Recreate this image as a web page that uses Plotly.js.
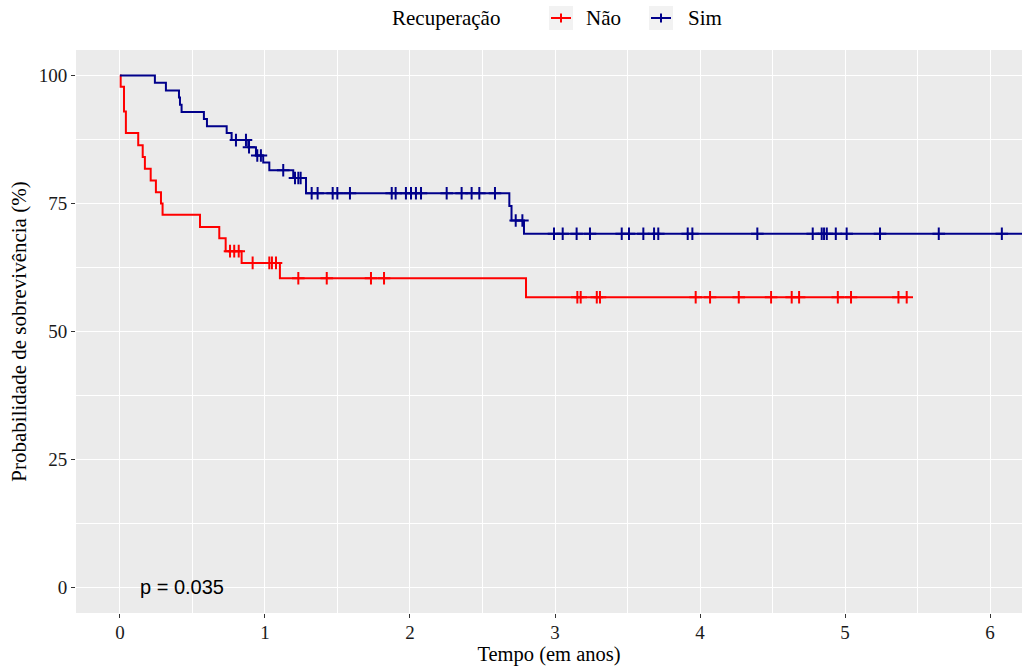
<!DOCTYPE html>
<html>
<head>
<meta charset="utf-8">
<script src="https://cdn.plot.ly/plotly-3.0.1.min.js"></script>
<style>html,body{margin:0;padding:0;background:#fff;}#chart{width:1022px;height:666px;}</style>
</head>
<body>
<div id="chart"></div>
<script>
// Group "Não": Kaplan-Meier step times (years) and survival (%) after each step
const naoTimes = [0, 0.005, 0.028, 0.041, 0.126, 0.157, 0.172, 0.212, 0.248, 0.283, 0.294, 0.552, 0.685, 0.729, 0.839, 1.103, 2.8, 5.43];
const naoSurv  = [100, 97.8, 93.0, 88.8, 86.4, 84.1, 81.8, 79.5, 77.2, 75.0, 72.8, 70.4, 68.2, 65.7, 63.4, 60.4, 56.7, 56.7];
const naoCensor = [0.759, 0.788, 0.819, 0.915, 1.03, 1.048, 1.076, 1.23, 1.426, 1.731, 1.821,
                   3.154, 3.177, 3.288, 3.31, 3.97, 4.069, 4.267, 4.49, 4.632, 4.683, 4.95, 5.041, 5.368, 5.425];

// Group "Sim"
const simTimes = [0, 0.241, 0.317, 0.407, 0.414, 0.425, 0.579, 0.6, 0.736, 0.77, 0.885, 0.938, 0.988, 1.03, 1.195, 1.283, 2.685, 2.7, 2.786, 6.3];
const simSurv  = [100, 98.6, 97.1, 95.7, 94.3, 92.9, 91.5, 90.1, 88.8, 87.4, 86.0, 84.4, 83.0, 81.5, 80.0, 77.0, 74.5, 71.7, 69.1, 69.1];
const simCensor = [0.8, 0.869, 0.89, 0.947, 0.972, 1.126, 1.207, 1.23, 1.246,
                   1.322, 1.363, 1.467, 1.499, 1.586, 1.874, 1.901, 1.972, 2.007, 2.041, 2.076, 2.253, 2.356, 2.425, 2.478, 2.586,
                   2.729, 2.775, 2.993, 3.053, 3.149, 3.241, 3.46, 3.51, 3.609, 3.683, 3.712, 3.915, 3.947, 4.395,
                   4.777, 4.839, 4.855, 4.874, 4.936, 5.011, 5.241, 5.646, 6.081];

const groupNames = ['Não', 'Sim'];
const groupColors = ['#FF0000', '#00008B'];
const legendTitle = 'Recuperação';
const xTicks = [0, 1, 2, 3, 4, 5, 6];
const yTicks = [0, 25, 50, 75, 100];
const pValueText = 'p = 0.035';

function survAt(times, surv, t) {
  let s = surv[0];
  for (let i = 0; i < times.length; i++) { if (times[i] <= t) s = surv[i]; }
  return s;
}

const groups = [
  {times: naoTimes, surv: naoSurv, cens: naoCensor},
  {times: simTimes, surv: simSurv, cens: simCensor}
];

const serif = '"Liberation Serif", "Times New Roman", serif';
const sans = '"Liberation Sans", Arial, sans-serif';
const traces = [];
groups.forEach((g, i) => {
  traces.push({
    x: g.times, y: g.surv, type: 'scatter', mode: 'lines',
    line: {shape: 'hv', color: groupColors[i], width: 2},
    name: groupNames[i], legendgroup: groupNames[i], showlegend: false, hoverinfo: 'x+y'
  });
  traces.push({
    x: g.cens, y: g.cens.map(t => survAt(g.times, g.surv, t)), type: 'scatter', mode: 'markers',
    marker: {symbol: 'cross-thin', size: 9, line: {color: groupColors[i], width: 2}, color: groupColors[i]},
    name: groupNames[i], legendgroup: groupNames[i], showlegend: false, hoverinfo: 'x+y'
  });
});

// Manual legend (ggplot style) placed in pixels relative to plot area top-left
const PL = 76, PT = 50, PW = 946, PH = 563;
const px2x = p => (p - PL) / PW;
const py2y = p => 1 + (PT - p) / PH;
const shapes = [];
const annotations = [];
annotations.push({xref: 'paper', yref: 'paper', x: px2x(390), y: py2y(18), xanchor: 'left', yanchor: 'middle',
  text: legendTitle, showarrow: false, font: {family: serif, size: 21, color: '#000'}});
const keyLeft = [549, 649];
const labelLeft = [584, 686];
groupNames.forEach((nm, i) => {
  const kx = keyLeft[i];
  shapes.push({type: 'rect', xref: 'paper', yref: 'paper', xsizemode: 'pixel', ysizemode: 'pixel', xanchor: 0, yanchor: 1,
    x0: kx - PL, x1: kx + 24 - PL, y0: PT - 30, y1: PT - 6, fillcolor: '#F2F2F2', line: {width: 0}});
  shapes.push({type: 'line', xref: 'paper', yref: 'paper', xsizemode: 'pixel', ysizemode: 'pixel', xanchor: 0, yanchor: 1,
    x0: kx + 2 - PL, x1: kx + 22 - PL, y0: PT - 18, y1: PT - 18, line: {color: groupColors[i], width: 2}});
  shapes.push({type: 'line', xref: 'paper', yref: 'paper', xsizemode: 'pixel', ysizemode: 'pixel', xanchor: 0, yanchor: 1,
    x0: kx + 12 - PL, x1: kx + 12 - PL, y0: PT - 13.5, y1: PT - 22.5, line: {color: groupColors[i], width: 2}});
  annotations.push({xref: 'paper', yref: 'paper', x: px2x(labelLeft[i]), y: py2y(18), xanchor: 'left', yanchor: 'middle',
    text: nm, showarrow: false, font: {family: serif, size: 21, color: '#000'}});
});
annotations.push({x: 0.43, y: 0, xref: 'x', yref: 'y', text: pValueText, showarrow: false,
  font: {family: sans, size: 20, color: '#000'}});

const layout = {
  width: 1022, height: 666,
  margin: {l: PL, r: 0, t: PT, b: 666 - PT - PH},
  paper_bgcolor: '#FFFFFF', plot_bgcolor: '#EBEBEB',
  font: {family: serif, size: 19, color: '#1A1A1A'},
  showlegend: false,
  xaxis: {
    range: [-0.303, 6.22], tickvals: xTicks, ticktext: xTicks.map(String),
    showgrid: true, gridcolor: '#FFFFFF', gridwidth: 1.1,
    minor: {dtick: 0.5, tick0: 0.5, showgrid: true, gridcolor: '#FFFFFF', gridwidth: 0.5, ticks: ''},
    zeroline: false, showline: false, ticks: 'outside', ticklen: 4, tickcolor: '#333333', tickwidth: 1,
    ticklabelstandoff: -2,
    tickfont: {family: serif, size: 19, color: '#1A1A1A'},
    title: {text: 'Tempo (em anos)', font: {family: serif, size: 20.5, color: '#000'}, standoff: 6}
  },
  yaxis: {
    range: [-5, 105], tickvals: yTicks, ticktext: yTicks.map(String),
    showgrid: true, gridcolor: '#FFFFFF', gridwidth: 1.1,
    minor: {dtick: 12.5, tick0: 12.5, showgrid: true, gridcolor: '#FFFFFF', gridwidth: 0.5, ticks: ''},
    zeroline: false, showline: false, ticks: 'outside', ticklen: 4, tickcolor: '#333333', tickwidth: 1,
    tickfont: {family: serif, size: 19, color: '#1A1A1A'},
    title: {text: 'Probabilidade de sobrevivência (%)', font: {family: serif, size: 21, color: '#000'}, standoff: 6}
  },
  shapes: shapes,
  annotations: annotations
};

Plotly.newPlot('chart', traces, layout, {displayModeBar: false, responsive: false});
</script>
</body>
</html>
